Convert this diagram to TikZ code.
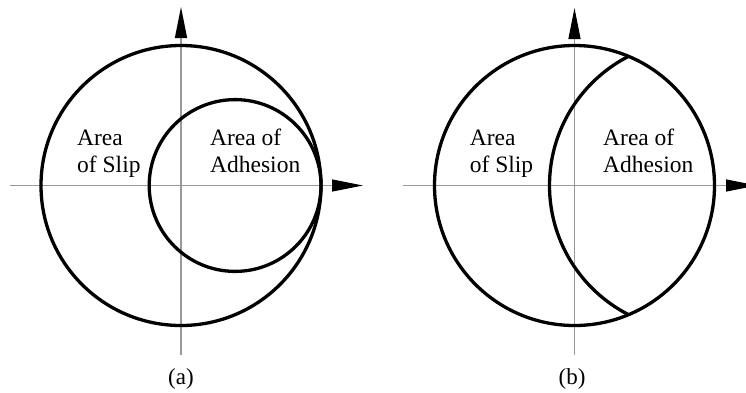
\documentclass[tikz,border=0pt]{standalone}
\usepackage{fontspec}
\setmainfont{Liberation Serif}
\usetikzlibrary{arrows.meta}
\tikzset{
  x=1pt, y=-1pt,
  rim/.style={line width=3.3pt, black},
  axis/.style={line width=1.3pt, black!40, -{Triangle[length=31pt,width=12pt,color=black]}},
  lbl/.style={font=\fontsize{23.5}{26.5}\selectfont, inner sep=0pt, align=left, anchor=base west},
  panelcap/.style={font=\fontsize{23}{26.5}\selectfont, inner sep=0pt, anchor=base}
}
\begin{document}
\begin{tikzpicture}
\useasboundingbox (0,0) rectangle (746,392);
\clip (0,0) rectangle (746,392);
% ---------- panel (a)
\coordinate (aO) at (181,185.5);
\coordinate (axs) at (10,185.5);
\coordinate (axe) at (363,185.5);
\coordinate (ays) at (181,355);
\coordinate (aye) at (181,7);
\draw[axis] (axs) -- (axe);
\draw[axis] (ays) -- (aye);
\draw[rim] (aO) circle[radius=140];
\draw[rim] (235.1,185.5) circle[radius=85.9];
\node[lbl] (aslip) at (77,172.2) {Area\\of Slip};
\node[lbl] (aadh) at (210,172.2) {Area of\\Adhesion};
\node[panelcap] (acap) at (181,384) {(a)};
% ---------- panel (b)
\coordinate (bO) at (574.5,185.5);
\coordinate (bxs) at (403,185.5);
\coordinate (bxe) at (757,185.5);
\coordinate (bys) at (574.5,355);
\coordinate (bye) at (574.5,8);
\draw[axis] (bxs) -- (bxe);
\draw[axis] (bys) -- (bye);
\begin{scope}
  \clip (bO) circle[radius=140];
  \draw[rim] (694.5,185.5) circle[radius=145];
\end{scope}
\draw[rim] (bO) circle[radius=140];
\node[lbl] (bslip) at (469.7,172.2) {Area\\of Slip};
\node[lbl] (badh) at (603,172.2) {Area of\\Adhesion};
\node[panelcap] (bcap) at (572,384) {(b)};
\end{tikzpicture}
\end{document}
